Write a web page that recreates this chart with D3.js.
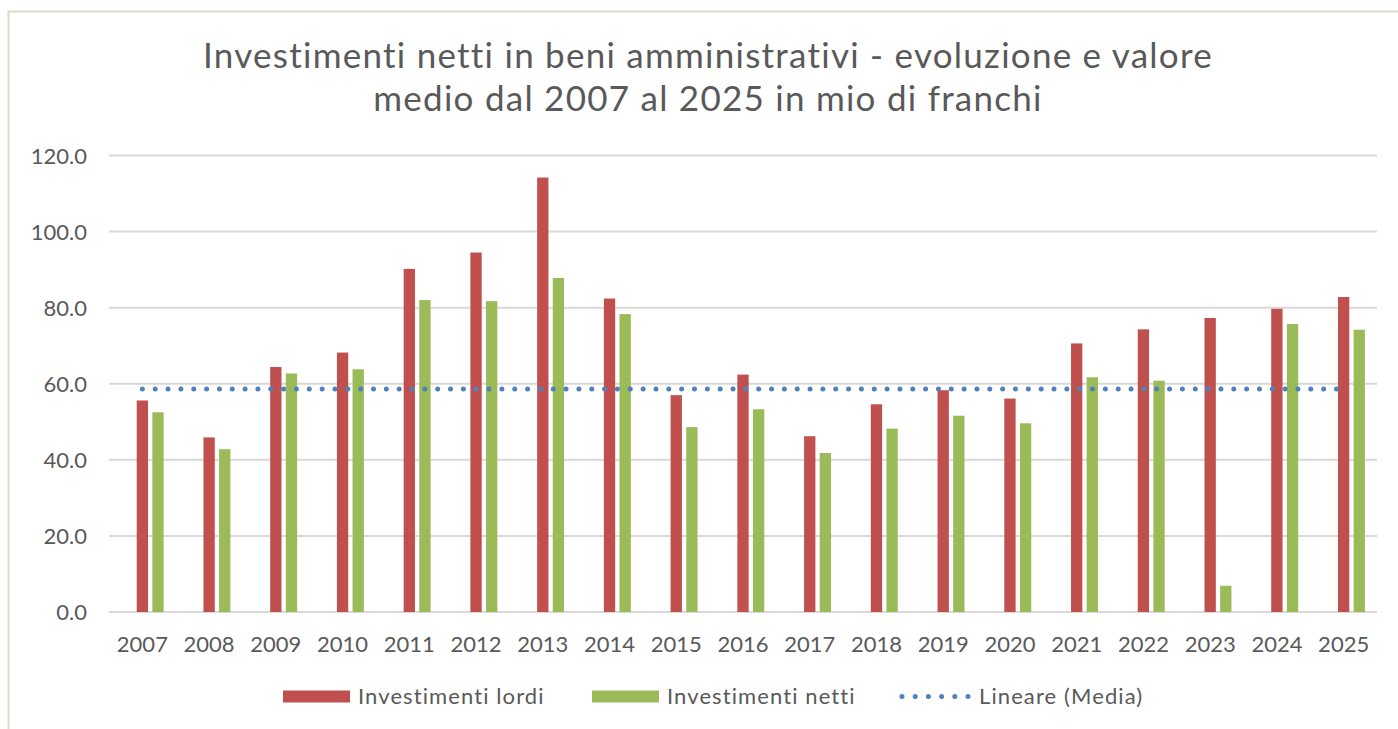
<!DOCTYPE html>
<html>
<head>
<meta charset="utf-8">
<script src="https://cdn.jsdelivr.net/npm/d3@7"></script>
<style>
  body { margin: 0; background: #fff; }
  svg { display: block; }
  text { font-family: Lato, "Open Sans", sans-serif; fill: #595959; font-variant-ligatures: none; }
</style>
</head>
<body>
<script>
// dati (mio di franchi)
var anni = ["2007", "2008", "2009", "2010", "2011", "2012", "2013", "2014", "2015", "2016",
    "2017", "2018", "2019", "2020", "2021", "2022", "2023", "2024", "2025"];
var lordi = [55.6, 45.9, 64.4, 68.2, 90.2, 94.5, 114.2, 82.4, 57.0, 62.4,
    46.2, 54.6, 58.3, 56.1, 70.6, 74.3, 77.3, 79.7, 82.8];
var netti = [52.5, 42.8, 62.7, 63.8, 82.0, 81.7, 87.8, 78.3, 48.6, 53.3,
    41.8, 48.2, 51.6, 49.6, 61.7, 60.8, 6.9, 75.7, 74.2];
var media = 58.6;
var yTicks = [0, 20, 40, 60, 80, 100, 120];
var titolo = ["Investimenti netti in beni amministrativi - evoluzione e valore",
    "medio dal 2007 al 2025 in mio di franchi"];
var legenda = ["Investimenti lordi", "Investimenti netti", "Lineare (Media)"];

var colori = { lordi: "#c0504d", netti: "#9bbb59", media: "#4f81bd" };

var width = 1398, height = 729;

var svg = d3.select("body").append("svg")
    .attr("width", width)
    .attr("height", height);

// cornice del grafico
svg.append("path")
    .attr("d", "M8.5," + height + "V11.5H" + width)
    .attr("fill", "none")
    .attr("stroke", "#dcdccc")
    .attr("stroke-width", 2);

var x = d3.scaleBand()
    .domain(anni)
    .range([109, 1377]);

// la serie "Media" occupa il primo posto del gruppo ma non è visibile
var xs = d3.scaleBand()
    .domain(["media", "lordi", "netti"])
    .range([0, x.bandwidth()])
    .paddingInner(0.276)
    .paddingOuter(0.773);

var y = d3.scaleLinear()
    .domain([0, 120])
    .range([612, 155.5]);

// titolo
svg.append("text")
    .attr("x", 708)
    .attr("y", 68)
    .attr("text-anchor", "middle")
    .style("font-size", "35px")
    .style("letter-spacing", "1.25px")
    .selectAll("tspan")
    .data(titolo)
    .enter().append("tspan")
    .attr("x", 708)
    .attr("dy", function (d, i) { return i == 0 ? 0 : 43; })
    .text(function (d) { return d; });

// griglia
svg.append("g")
    .selectAll("line")
    .data(yTicks)
    .enter().append("line")
    .attr("x1", x.range()[0])
    .attr("x2", x.range()[1])
    .attr("y1", function (d) { return y(d); })
    .attr("y2", function (d) { return y(d); })
    .attr("stroke", "#d9d9d9")
    .attr("stroke-width", 2);

// asse y
var yAxis = svg.append("g")
    .attr("transform", "translate(87,0)")
    .call(d3.axisLeft(y).tickValues(yTicks).tickFormat(d3.format(".1f")).tickSize(0).tickPadding(0));
yAxis.select(".domain").remove();
yAxis.selectAll("text")
    .style("font-size", "22px")
    .style("font-family", "Lato, sans-serif")
    .attr("fill", "#595959")
    .attr("dy", "0.36em");

// asse x
var xAxis = svg.append("g")
    .attr("transform", "translate(0,612)")
    .call(d3.axisBottom(x).tickSize(0).tickPadding(0));
xAxis.select(".domain").remove();
xAxis.selectAll("text")
    .style("font-size", "22px")
    .style("font-family", "Lato, sans-serif")
    .attr("fill", "#595959")
    .attr("y", 40)
    .attr("dy", 0);

// barre
var serie = [
    { key: "lordi", values: lordi },
    { key: "netti", values: netti }
];

svg.append("g")
    .selectAll("g")
    .data(serie)
    .enter().append("g")
    .attr("fill", function (s) { return colori[s.key]; })
    .each(function (s) {
        d3.select(this).selectAll("rect")
            .data(s.values)
            .enter().append("rect")
            .attr("x", function (d, i) { return x(anni[i]) + xs(s.key); })
            .attr("width", xs.bandwidth())
            .attr("y", function (d) { return y(d); })
            .attr("height", function (d) { return y(0) - y(d); });
    });

// linea di tendenza (media)
svg.append("line")
    .attr("x1", x(anni[0]) + x.bandwidth() / 2)
    .attr("x2", x(anni[anni.length - 1]) + x.bandwidth() / 2)
    .attr("y1", y(media))
    .attr("y2", y(media))
    .attr("stroke", colori.media)
    .attr("stroke-width", 5)
    .attr("stroke-linecap", "round")
    .attr("stroke-dasharray", "0 12.84");

// legenda
var leg = svg.append("g");
var legX = [283, 592, 901];

leg.append("rect")
    .attr("x", legX[0]).attr("y", 690.5)
    .attr("width", 67).attr("height", 12)
    .attr("fill", colori.lordi);
leg.append("rect")
    .attr("x", legX[1]).attr("y", 690.5)
    .attr("width", 67).attr("height", 12)
    .attr("fill", colori.netti);
leg.append("line")
    .attr("x1", legX[2] + 1).attr("x2", legX[2] + 67)
    .attr("y1", 696.5).attr("y2", 696.5)
    .attr("stroke", colori.media)
    .attr("stroke-width", 5)
    .attr("stroke-linecap", "round")
    .attr("stroke-dasharray", "0 13.2");

leg.selectAll("text")
    .data(legenda)
    .enter().append("text")
    .attr("x", function (d, i) { return legX[i] + (i == 2 ? 78 : 75); })
    .attr("y", 704)
    .style("font-size", "22px")
    .style("letter-spacing", "1.1px")
    .text(function (d) { return d; });
</script>
</body>
</html>
